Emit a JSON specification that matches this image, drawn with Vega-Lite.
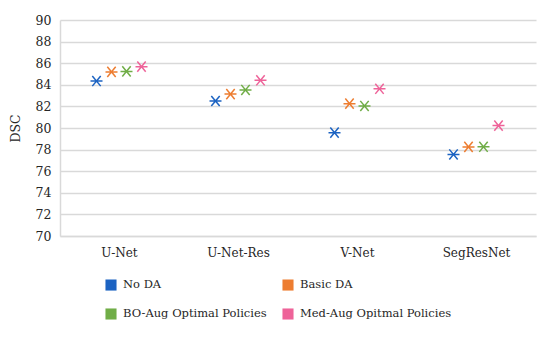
{
  "$schema": "https://vega.github.io/schema/vega-lite/v6.json",
  "autosize": {"type": "none"},
  "width": 476,
  "height": 216,
  "padding": {"left": 60, "top": 20, "right": 14, "bottom": 108},
  "background": "#ffffff",
  "config": {
    "view": {"stroke": null},
    "font": "DejaVu Serif"
  },
  "data": {
    "values": [
      {"model": "U-Net", "method": "No DA", "dsc": 84.35},
      {"model": "U-Net", "method": "Basic DA", "dsc": 85.19},
      {"model": "U-Net", "method": "BO-Aug Optimal Policies", "dsc": 85.24},
      {"model": "U-Net", "method": "Med-Aug Opitmal Policies", "dsc": 85.68},
      {"model": "U-Net-Res", "method": "No DA", "dsc": 82.5},
      {"model": "U-Net-Res", "method": "Basic DA", "dsc": 83.14},
      {"model": "U-Net-Res", "method": "BO-Aug Optimal Policies", "dsc": 83.52},
      {"model": "U-Net-Res", "method": "Med-Aug Opitmal Policies", "dsc": 84.42},
      {"model": "V-Net", "method": "No DA", "dsc": 79.57},
      {"model": "V-Net", "method": "Basic DA", "dsc": 82.25},
      {"model": "V-Net", "method": "BO-Aug Optimal Policies", "dsc": 82.04},
      {"model": "V-Net", "method": "Med-Aug Opitmal Policies", "dsc": 83.63},
      {"model": "SegResNet", "method": "No DA", "dsc": 77.55},
      {"model": "SegResNet", "method": "Basic DA", "dsc": 78.25},
      {"model": "SegResNet", "method": "BO-Aug Optimal Policies", "dsc": 78.26},
      {"model": "SegResNet", "method": "Med-Aug Opitmal Policies", "dsc": 80.22}
    ]
  },
  "mark": {
    "type": "point",
    "shape": "M-1,0L1,0M-0.7,-0.85L0.7,0.85M-0.7,0.85L0.7,-0.85",
    "filled": false,
    "size": 144,
    "strokeWidth": 1.5,
    "opacity": 1
  },
  "encoding": {
    "x": {
      "field": "model",
      "type": "nominal",
      "sort": ["U-Net", "U-Net-Res", "V-Net", "SegResNet"],
      "scale": {"paddingInner": 0, "paddingOuter": 0},
      "axis": {
        "title": null,
        "labelAngle": 0,
        "labelFont": "DejaVu Serif",
        "labelFontSize": 12,
        "labelColor": "#262626",
        "labelPadding": 11,
        "ticks": false,
        "domain": true,
        "domainColor": "#d9d9d9",
        "domainWidth": 1.5,
        "grid": false
      }
    },
    "xOffset": {
      "field": "method",
      "type": "nominal",
      "sort": ["No DA", "Basic DA", "BO-Aug Optimal Policies", "Med-Aug Opitmal Policies"],
      "scale": {"type": "point", "padding": 0, "range": [36.5, 81.5]}
    },
    "y": {
      "field": "dsc",
      "type": "quantitative",
      "scale": {"domain": [70, 90], "zero": false, "nice": false},
      "axis": {
        "title": "DSC",
        "titleFont": "DejaVu Serif",
        "titleFontSize": 12.5,
        "titleFontWeight": "normal",
        "titleColor": "#262626",
        "titlePadding": 13,
        "values": [70, 72, 74, 76, 78, 80, 82, 84, 86, 88, 90],
        "labelFont": "DejaVu Serif",
        "labelFontSize": 12.5,
        "labelColor": "#262626",
        "labelPadding": 9,
        "ticks": false,
        "domain": true,
        "domainColor": "#d9d9d9",
        "domainWidth": 1.5,
        "grid": true,
        "gridColor": "#d9d9d9",
        "gridWidth": 1.5
      }
    },
    "color": {
      "field": "method",
      "type": "nominal",
      "sort": ["No DA", "Basic DA", "BO-Aug Optimal Policies", "Med-Aug Opitmal Policies"],
      "scale": {
        "domain": ["No DA", "Basic DA", "BO-Aug Optimal Policies", "Med-Aug Opitmal Policies"],
        "range": ["#1c63c2", "#ed7d31", "#70ad47", "#ee6399"]
      },
      "legend": {
        "title": null,
        "orient": "none",
        "direction": "horizontal",
        "legendX": 45,
        "legendY": 259,
        "columns": 2,
        "columnPadding": 7,
        "rowPadding": 1,
        "labelFont": "DejaVu Serif",
        "labelFontSize": 11.5,
        "labelColor": "#262626",
        "labelOffset": 6,
        "labelLimit": 300,
        "symbolSize": 30,
        "symbolType": "square",
        "symbolStrokeWidth": 5.6
      }
    }
  }
}
